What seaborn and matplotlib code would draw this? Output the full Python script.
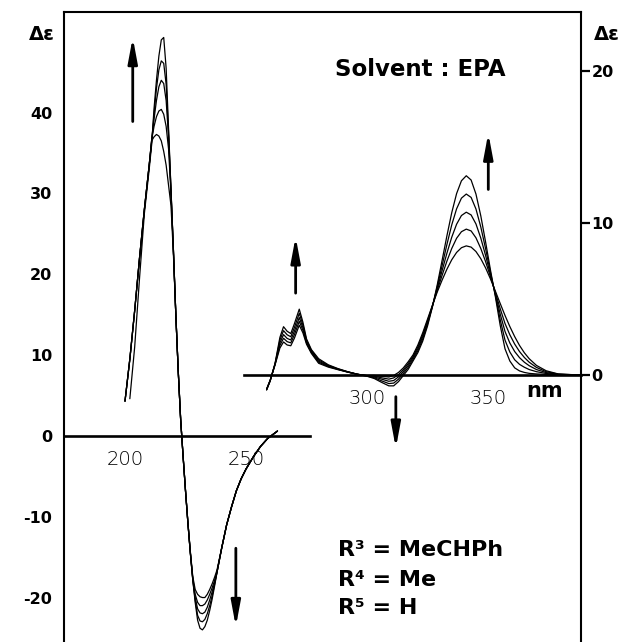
import numpy as np
import pandas as pd
import matplotlib
matplotlib.use("Agg")
import matplotlib.pyplot as plt
import seaborn as sns

# ─────────────────────────────────────────────────────────────
# CD spectra (solvent EPA)
# ─────────────────────────────────────────────────────────────
# short-wavelength band -> left axis
uv_nm = [200, 202, 204, 206, 208, 210, 211, 212, 213, 214, 215, 216, 217, 218,
         219, 220, 221, 222, 223, 224, 225, 226, 227, 228, 229, 230, 231, 232,
         233, 234, 235, 236, 237, 238, 240, 242, 244, 246, 248, 250, 253, 256,
         259, 263]
uv_rise = [4.3, 9.5, 15.5, 22.0, 28.0, 33.5]
uv_tail = [-13.8, -11.0, -8.8, -6.8, -5.3, -4.1, -2.6, -1.3, -0.3, 0.6]
uv_c1 = [np.nan, 4.6, 11.0, 19.5, 27.5, 33.0] + [
    36.0, 40.5, 44.0, 47.0, 49.0, 49.3, 45.5, 38.0, 30.5, 23.0, 15.0, 8.0, 2.0,
    -2.5, -6.8, -10.8, -14.5, -17.8, -20.6, -22.8, -23.8, -24.0, -23.6, -22.8,
    -21.6, -20.2, -18.6, -16.9] + uv_tail
uv_c2 = uv_rise + [
    36.3, 39.8, 43.0, 45.3, 46.4, 46.1, 43.5, 37.5, 30.5, 23.0, 15.0, 8.0, 2.0,
    -2.5, -6.8, -10.8, -14.5, -17.8, -20.3, -22.2, -22.9, -23.0, -22.7, -22.0,
    -21.0, -19.8, -18.4, -16.9] + uv_tail
uv_c3 = uv_rise + [
    36.5, 39.2, 41.5, 43.2, 44.0, 43.6, 41.5, 37.0, 30.3, 23.0, 15.0, 8.0, 2.0,
    -2.5, -6.8, -10.8, -14.5, -17.7, -20.0, -21.4, -21.9, -22.0, -21.8, -21.2,
    -20.3, -19.3, -18.2, -16.9] + uv_tail
uv_c4 = uv_rise + [
    36.6, 38.3, 39.5, 40.2, 40.4, 39.8, 38.3, 35.5, 30.0, 23.0, 15.0, 8.0, 2.0,
    -2.5, -6.8, -10.8, -14.4, -17.6, -19.6, -20.6, -21.0, -21.0, -20.8, -20.3,
    -19.6, -18.8, -17.9, -16.8] + uv_tail
uv_c5 = uv_rise + [
    36.5, 37.0, 37.3, 37.1, 36.5, 35.2, 33.5, 31.0, 28.5, 22.5, 15.0, 8.0, 2.0,
    -2.5, -6.7, -10.7, -14.3, -17.4, -19.0, -19.6, -19.9, -20.0, -20.0, -19.6,
    -19.0, -18.3, -17.5, -16.6] + uv_tail

# long-wavelength bands -> right axis
vis_nm = [258.5, 260, 262, 264, 265.5, 267, 268.5, 270, 272, 273.5, 275, 277,
          280, 284, 288, 292, 296, 300, 303, 306, 309, 311, 313, 315, 317, 319,
          321, 323, 325, 327, 329, 331, 333, 335, 337, 339, 341, 343, 345, 347,
          349, 351, 353, 355, 357, 359, 361, 363, 365, 367, 370, 374, 379, 388]
vis_c1 = [-0.95, -0.35, 0.8, 2.5, 3.2, 2.9, 2.75, 3.4, 4.35, 3.5, 2.4, 1.7,
          1.1, 0.7, 0.45, 0.25, 0.08, -0.05, -0.2, -0.45, -0.68, -0.68, -0.4, 0.0,
          0.4, 0.95, 1.5, 2.25, 3.25, 4.49, 5.94, 7.54, 9.16, 10.68, 11.93, 12.77,
          13.1, 12.82, 11.9, 10.47, 8.74, 6.91, 5.19, 3.3, 1.75, 0.95, 0.5, 0.3,
          0.2, 0.14, 0.1, 0.07, 0.04, 0.02]
vis_c2 = [-0.94, -0.34, 0.77, 2.32, 2.94, 2.67, 2.54, 3.15, 4.08, 3.32, 2.31, 1.64,
          1.02, 0.66, 0.43, 0.24, 0.08, -0.04, -0.15, -0.35, -0.53, -0.5, -0.24, 0.13,
          0.53, 1.05, 1.63, 2.39, 3.37, 4.52, 5.82, 7.2, 8.59, 9.88, 10.93, 11.63,
          11.9, 11.68, 10.92, 9.74, 8.3, 6.76, 5.28, 3.67, 2.32, 1.54, 1.03, 0.73,
          0.54, 0.39, 0.25, 0.13, 0.06, 0.02]
vis_c3 = [-0.92, -0.32, 0.75, 2.14, 2.68, 2.43, 2.33, 2.91, 3.8, 3.14, 2.22, 1.57,
          0.94, 0.62, 0.41, 0.23, 0.08, -0.02, -0.1, -0.24, -0.38, -0.33, -0.09, 0.26,
          0.66, 1.16, 1.76, 2.54, 3.48, 4.55, 5.7, 6.87, 8.02, 9.07, 9.92, 10.49,
          10.71, 10.53, 9.94, 9.01, 7.86, 6.61, 5.37, 4.04, 2.89, 2.13, 1.57, 1.17,
          0.87, 0.64, 0.39, 0.19, 0.07, 0.03]
vis_c4 = [-0.91, -0.31, 0.72, 1.97, 2.44, 2.22, 2.14, 2.68, 3.55, 2.97, 2.13, 1.51,
          0.87, 0.59, 0.4, 0.23, 0.08, -0.01, -0.05, -0.15, -0.24, -0.16, 0.06, 0.38,
          0.78, 1.25, 1.88, 2.67, 3.59, 4.57, 5.58, 6.56, 7.5, 8.33, 9.0, 9.43,
          9.6, 9.48, 9.03, 8.33, 7.46, 6.47, 5.46, 4.39, 3.41, 2.67, 2.06, 1.57,
          1.18, 0.87, 0.53, 0.25, 0.09, 0.03]
vis_c5 = [-0.9, -0.3, 0.7, 1.8, 2.2, 2.0, 1.95, 2.45, 3.3, 2.8, 2.05, 1.45,
          0.8, 0.55, 0.38, 0.22, 0.08, 0.0, 0.0, -0.05, -0.1, 0.0, 0.2, 0.5,
          0.9, 1.35, 2.0, 2.8, 3.7, 4.6, 5.47, 6.25, 6.97, 7.59, 8.07, 8.38,
          8.5, 8.42, 8.13, 7.66, 7.05, 6.33, 5.54, 4.73, 3.94, 3.21, 2.55, 1.97,
          1.49, 1.1, 0.66, 0.31, 0.1, 0.03]

left_ticks = [-20, -10, 0, 10, 20, 30, 40]
right_ticks = [0, 10, 20]
uv_xticks = [200, 250]
vis_xticks = [300, 350]

uv = pd.concat([pd.DataFrame({"nm": uv_nm, "de": c, "run": i})
                for i, c in enumerate([uv_c1, uv_c2, uv_c3, uv_c4, uv_c5])]).dropna()
vis = pd.concat([pd.DataFrame({"nm": vis_nm, "de": c, "run": i})
                 for i, c in enumerate([vis_c1, vis_c2, vis_c3, vis_c4, vis_c5])])

# ─────────────────────────────────────────────────────────────
# figure
# ─────────────────────────────────────────────────────────────
sns.set_style("white")
plt.rcParams["font.family"] = ["DejaVu Sans"]
plt.rcParams["axes.unicode_minus"] = False
for key in ("text.color", "axes.edgecolor", "axes.labelcolor",
            "xtick.color", "ytick.color", "xtick.labelcolor", "ytick.labelcolor"):
    plt.rcParams[key] = "black"

W, H = 624, 642
fig = plt.figure(figsize=(W / 100, H / 100), dpi=100)
rect = [64 / W, 0, 517 / W, 630 / H]
ax = fig.add_axes(rect)
ax2 = fig.add_axes(rect, label="vis")
ax2.patch.set_visible(False)

xlim = (174.8, 388.4)
ax.set_xlim(*xlim)
ax.set_ylim(-25.5, 52.45)
ax2.set_xlim(*xlim)
ax2.set_ylim(-17.48, 23.84)

sns.lineplot(data=uv, x="nm", y="de", units="run", estimator=None,
             color="black", lw=0.9, ax=ax, legend=False)
sns.lineplot(data=vis, x="nm", y="de", units="run", estimator=None,
             color="black", lw=0.9, ax=ax2, legend=False)
for a in (ax, ax2):
    a.set_xlabel("")
    a.set_ylabel("")

# frame + zero lines used as wavelength axes
ax.spines["right"].set_visible(False)
ax.spines["left"].set_linewidth(1.5)
ax.spines["top"].set_linewidth(1.5)
ax.spines["bottom"].set_position(("data", 0))
ax.spines["bottom"].set_bounds(174.8, 276.6)
ax.spines["bottom"].set_linewidth(1.9)

ax2.spines["left"].set_visible(False)
ax2.spines["top"].set_visible(False)
ax2.spines["right"].set_linewidth(1.5)
ax2.spines["bottom"].set_position(("data", 0))
ax2.spines["bottom"].set_bounds(249.0, 388.4)
ax2.spines["bottom"].set_linewidth(1.9)

ax.set_yticks(left_ticks)
ax.set_xticks(uv_xticks)
ax.tick_params(axis="y", direction="out", length=7.5, width=1.6, pad=1,
               labelsize=11.5)
ax.tick_params(axis="x", direction="out", length=8, width=1.4, pad=2,
               labelsize=14)
ax2.yaxis.tick_right()
ax2.set_yticks(right_ticks)
ax2.set_xticks(vis_xticks)
ax2.tick_params(axis="y", direction="out", length=6.5, width=1.6, pad=1,
                labelsize=11.5)
ax2.tick_params(axis="x", direction="out", length=8, width=1.4, pad=2,
                labelsize=14)
for lab in ax.get_yticklabels() + ax2.get_yticklabels():
    lab.set_fontweight("bold")
for lab in ax.get_xticklabels() + ax2.get_xticklabels():
    lab.set_fontweight("light")

# arrows showing the direction of change
arrow = dict(arrowstyle="-|>,head_length=1.5,head_width=0.28", color="black",
             lw=2.0, shrinkA=0, shrinkB=0)
ax.annotate("", xy=(203.2, 49.3), xytext=(203.2, 38.9), arrowprops=arrow)
ax.annotate("", xy=(245.8, -23.6), xytext=(245.8, -13.9), arrowprops=arrow)
ax2.annotate("", xy=(270.5, 9.1), xytext=(270.5, 5.4), arrowprops=arrow)
ax2.annotate("", xy=(350.1, 15.9), xytext=(350.1, 12.2), arrowprops=arrow)
ax2.annotate("", xy=(311.9, -4.77), xytext=(311.9, -1.39), arrowprops=arrow)

# labels
def fx(px):
    return px / W

def fy(py):
    return 1 - py / H

bold = dict(fontweight="bold", va="center")
fig.text(fx(42), fy(34), "Δε", ha="center", fontsize=14, **bold)
fig.text(fx(607), fy(34), "Δε", ha="center", fontsize=14, **bold)
fig.text(fx(420), fy(70), "Solvent : EPA", ha="center", fontsize=16.5, **bold)
fig.text(fx(545), fy(391), "nm", ha="center", fontsize=15, **bold)
fig.text(fx(338), fy(550), "R³ = MeCHPh", ha="left", fontsize=16, **bold)
fig.text(fx(338), fy(580), "R⁴ = Me", ha="left", fontsize=16, **bold)
fig.text(fx(338), fy(608), "R⁵ = H", ha="left", fontsize=16, **bold)

fig.savefig("out.png", dpi=100, facecolor="white")
